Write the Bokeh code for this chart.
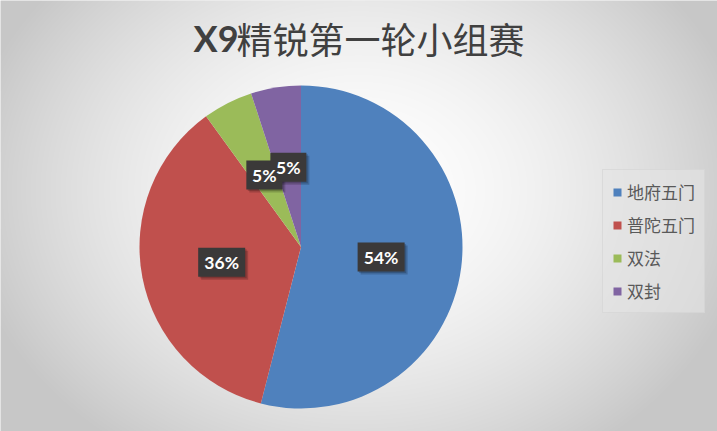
import numpy as np
from bokeh.plotting import figure
from bokeh.models import ColumnDataSource, Range1d, Legend, LegendItem
from bokeh.core.properties import value
from bokeh.transform import dodge
from bokeh.embed import file_html
from bokeh.resources import INLINE

# ---- data ----
title_latin = "X9"
title_cjk = "精锐第一轮小组赛"
categories = ["地府五门", "普陀五门", "双法", "双封"]
values = [54, 36, 5, 5]
colors = ["#4F81BD", "#C0504D", "#9BBB59", "#8064A2"]

# ---- geometry: data units = px, data y = 431 - screen y ----
W, H = 717, 431
CX, CY, R = 300.5, H - 246.5, 161.5

vals = np.array(values, dtype=float)
frac = vals / vals.sum()
cum = np.concatenate([[0], np.cumsum(frac)])
start = np.pi / 2 - 2 * np.pi * cum[:-1]
end = np.pi / 2 - 2 * np.pi * cum[1:]
mid = (start + end) / 2
labels = [f"{round(f * 100):.0f}%" for f in frac]
lx = CX + 0.5 * R * np.cos(mid)
ly = CY + 0.5 * R * np.sin(mid)
bw = [47 if len(s) == 3 else 36 for s in labels]

src = ColumnDataSource(dict(cat=categories, start=start, end=end, color=colors,
                            lx=lx, ly=ly, lab=labels, bw=bw))

p = figure(width=W, height=H, output_backend="svg", toolbar_location=None,
           x_range=Range1d(0, W), y_range=Range1d(0, H),
           x_axis_location=None, y_axis_location=None, min_border=0)
p.grid.visible = False
p.outline_line_color = None
p.background_fill_color = "#e0e0e0"
p.border_fill_color = "#d8d8d8"

# radial gradient background
xs = np.arange(W) + 0.5
ys = H - (np.arange(H) + 0.5)
X, Y = np.meshgrid(xs, ys)
d = np.sqrt(((X - 358) / 400) ** 2 + ((Y - 190) / 320) ** 2)
g = (255 - 56 * np.clip(d, 0, 1) ** 1.7).astype(np.uint8)
img = np.empty((H, W), dtype=np.uint32)
view = img.view(dtype=np.uint8).reshape((H, W, 4))
view[:, :, 0] = g
view[:, :, 1] = g
view[:, :, 2] = g
view[:, :, 3] = 255
p.image_rgba(image=[img], x=0, y=0, dw=W, dh=H)

# pie
wr = p.wedge(x=CX, y=CY, radius=R, start_angle="start", end_angle="end",
             direction="clock", fill_color="color", line_color=None, source=src)

# label boxes with shadow
for off in (3, 1.5):
    p.rect(x=dodge("lx", off), y=dodge("ly", -off), width="bw", height=29, source=src,
           fill_color="black", fill_alpha=0.18, line_color=None)
p.rect(x="lx", y="ly", width="bw", height=29, source=src, fill_color="#3b3939",
       line_color=None)
p.text(x="lx", y="ly", text="lab", source=src, text_color="white",
       text_font=value("Lato"), text_font_style="bold", text_font_size="17.5px",
       text_align="center", text_baseline="middle")

# title
p.text(x=[193], y=[H - 37], text=[title_latin], text_font=value("Lato"),
       text_font_style="bold", text_font_size="36px", text_color="#404040",
       text_align="left", text_baseline="middle")
p.text(x=[236], y=[H - 37], text=[title_cjk], text_font=value("Noto Sans CJK SC"),
       text_font_size="36px", text_color="#404040",
       text_align="left", text_baseline="middle")

# legend
items = [LegendItem(label=c, renderers=[wr], index=i) for i, c in enumerate(categories)]
leg = Legend(items=items, location=(602, 118), orientation="vertical",
             glyph_width=10, glyph_height=10, label_standoff=5,
             label_height=20, spacing=8, padding=9, margin=0,
             label_text_font="Noto Sans CJK SC", label_text_font_size="17px",
             label_text_color="#595959",
             background_fill_color="#e4e4e4", background_fill_alpha=0.6,
             border_line_color="#cfcfcf", border_line_width=1)
p.add_layout(leg, "center")

open("out.html", "w").write(file_html(p, INLINE))
